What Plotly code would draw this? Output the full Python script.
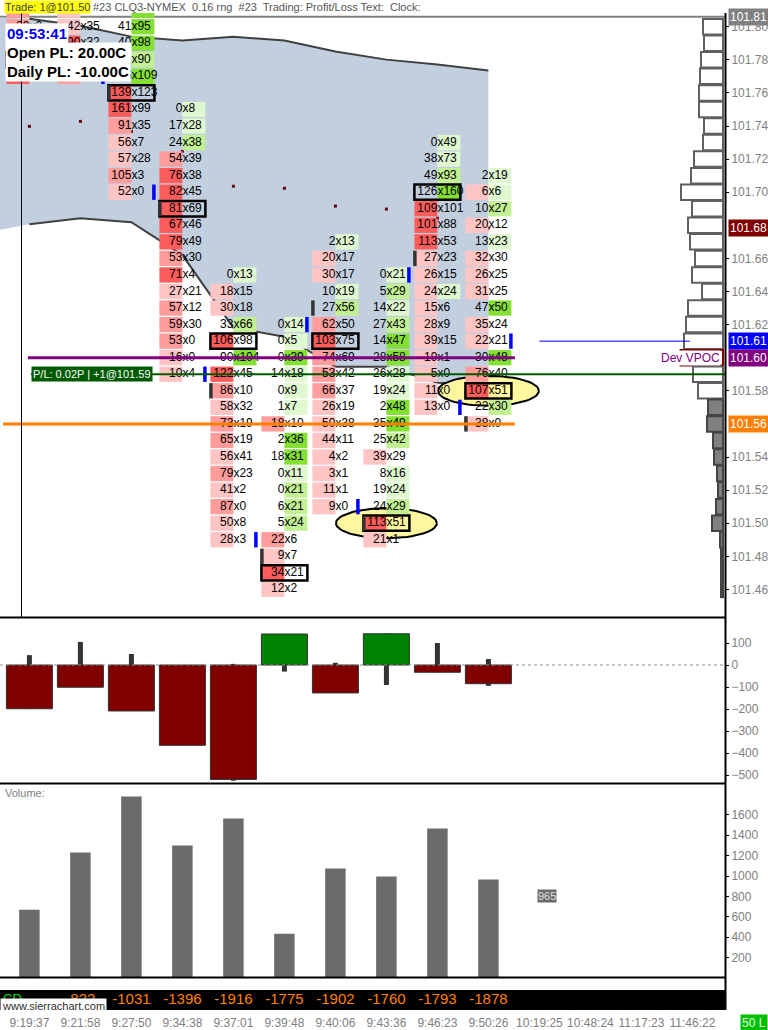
import math
import plotly.graph_objects as go

# ---------------- data ----------------
times = ["9:19:37", "9:21:58", "9:27:50", "9:34:38", "9:37:01", "9:39:48",
         "9:40:06", "9:43:36", "9:46:23", "9:50:26", "10:19:25", "10:48:24",
         "11:17:23", "11:46:22"]

# footprint: highest price of each bar, then bid / ask volume per price level (top -> down)
fp_top = [101.81, 101.81, 101.81, 101.75, 101.65, 101.62, 101.67, 101.65, 101.73, 101.71]
fp_bid = [
    [25, 29, 35, 40, 30],
    [30, 42, 90, 95, 70],
    [25, 41, 40, 68, 86, 139, 161, 91, 56, 57, 105, 52],
    [0, 17, 24, 54, 76, 82, 81, 67, 79, 53, 71, 27, 57, 59, 53, 16, 10],
    [0, 18, 30, 33, 106, 90, 122, 86, 58, 73, 65, 56, 79, 41, 87, 50, 28],
    [0, 0, 0, 14, 0, 1, 18, 2, 18, 0, 0, 6, 5, 22, 9, 34, 12],
    [2, 20, 30, 10, 27, 62, 103, 74, 53, 66, 26, 50, 44, 4, 3, 11, 9],
    [0, 5, 14, 27, 14, 28, 26, 19, 2, 35, 25, 39, 8, 19, 24, 113, 21],
    [0, 38, 49, 126, 109, 101, 113, 27, 26, 24, 15, 28, 39, 19, 5, 11, 13],
    [2, 6, 10, 20, 13, 32, 26, 31, 47, 35, 22, 30, 76, 107, 22, 38],
]
fp_ask = [
    [10, 0, 22, 20, 12],
    [20, 35, 32, 60, 55],
    [96, 95, 98, 90, 109, 123, 99, 35, 7, 28, 3, 0],
    [8, 28, 38, 39, 38, 45, 69, 46, 49, 30, 4, 21, 12, 30, 0, 0, 4],
    [13, 15, 18, 66, 98, 104, 45, 10, 32, 19, 19, 41, 23, 2, 0, 8, 3],
    [14, 5, 39, 18, 9, 7, 10, 36, 31, 11, 21, 21, 24, 6, 7, 21, 2],
    [13, 17, 17, 19, 56, 50, 75, 69, 42, 37, 19, 38, 11, 2, 1, 1, 0],
    [21, 29, 22, 43, 47, 58, 28, 24, 48, 49, 42, 29, 16, 24, 29, 51, 1],
    [49, 73, 93, 160, 101, 88, 53, 23, 15, 24, 6, 9, 15, 1, 0, 0, 0],
    [19, 6, 27, 12, 23, 30, 25, 25, 50, 24, 21, 48, 40, 51, 30, 0],
]
fp_open = [None, None, 101.76, 101.69, 101.58, 101.48, 101.63, 101.50, 101.66, 101.56]
fp_close = [None, 101.77, 101.70, 101.59, 101.49, 101.62, 101.51, 101.65, 101.57, 101.61]
highlights = [(7, 101.50), (9, 101.58)]

# moving average (dots) and band (index -1 = previous bar)
ma_dots = [101.7398, 101.7428, 101.7367, 101.7247, 101.7036, 101.7024,
           101.6916, 101.6898, 101.6843, 101.6783]
band_idx = [-1, 0, 1, 2, 3, 4, 5, 6, 7, 8, 9]
band_upper = [101.806, 101.8048, 101.8006, 101.794, 101.7916, 101.794,
              101.7916, 101.785, 101.7801, 101.7771, 101.7735]
band_lower = [101.6747, 101.6807, 101.6843, 101.6819, 101.662, 101.6181,
              101.6127, 101.5946, 101.5946, 101.5849, 101.5837]

# volume profile
profile_prices = [round(101.80 - 0.01 * k, 2) for k in range(35)]
profile_vol = [20, 19, 22, 23, 24, 24, 19, 20, 29, 32, 42, 31, 35, 33, 28, 31, 21,
               35, 37, 39, 42.5, 30, 25, 15, 16, 10, 9, 6, 5, 7, 11, 3, 2, 2, 2]

# levels
hod_level = 101.806
dev_vpoc = 101.60
position_price = 101.59
orange_level = 101.56
last_price = 101.61

# lower panes
delta = [-199, -101, -209, -365, -520, 141, -127, 142, -33, -85]
delta_hi = [45, 105, 50, 0, 5, 141, 10, 142, 100, 27]
delta_lo = [-199, -101, -209, -365, -526, -30, -127, -91, -33, -95]
volume = [670, 1230, 1780, 1298, 1563, 435, 1073, 995, 1466, 965]
cum_delta = [None, -822, -1031, -1396, -1916, -1775, -1902, -1760, -1793, -1878]

# tick labels (those hidden under the coloured value boxes are left out)
price_ticks = [101.46, 101.48, 101.50, 101.52, 101.54, 101.58, 101.62, 101.64,
               101.66, 101.70, 101.72, 101.74, 101.76, 101.78, 101.80]
delta_ticks = [-500, -400, -300, -200, -100, 0, 100]
volume_ticks = [200, 400, 600, 800, 1000, 1200, 1400, 1600]

# ---------------- geometry ----------------
SANS = "Liberation Sans, Arial, sans-serif"
W, H = 768, 1030
R_PX = 725.0
C0_PX, COL_PX = 29.4, 51.0
TICK = 0.01
PX_TICK = 16.55
P_REF, P_REF_PX = 101.80, 26.7
MAIN_TOP, MAIN_BOT = 13, 617
DELTA_TOP, DELTA_BOT, DELTA_ZERO, DELTA_PX = 619, 783, 665, 0.22
VOL_TOP, VOL_BOT, VOL_PX = 784, 978, 0.102
STRIP_TOP, STRIP_BOT = 990, 1010


def fy(px):
    return 1 - px / H


def fx(px):
    return px / W


def idx_w(px):
    return px / COL_PX


def price_h(px):
    return px / PX_TICK * TICK


xr = [(0 - C0_PX) / COL_PX, (R_PX - C0_PX) / COL_PX]
yr = [P_REF - price_h(MAIN_BOT - P_REF_PX), P_REF + price_h(P_REF_PX - MAIN_TOP)]
y2r = [-(DELTA_BOT - DELTA_ZERO) / DELTA_PX, (DELTA_ZERO - DELTA_TOP) / DELTA_PX]
y3r = [0, (VOL_BOT - VOL_TOP) / VOL_PX]

RED = ['#ffc4c4', '#ff9c9c', '#ff5c5c']
GREEN = ['#e0f8d0', '#c2f092', '#84e032']


def shade(v, vmax):
    r = v / vmax if vmax else 0
    return 2 if r >= 0.75 else (1 if r >= 0.5 else 0)


CELL_H = price_h(15.3)
CELL_W = idx_w(23)

bx, bb, bc = [], [], []
ax_, ab, ac = [], [], []
tx, ty, tb, ta = [], [], [], []
poc_x, poc_b = [], []
for i, (top, bids, asks) in enumerate(zip(fp_top, fp_bid, fp_ask)):
    prices = [round(top - k * TICK, 2) for k in range(len(bids))]
    bmax, amax = max(bids), max(asks)
    totals = [b + a for b, a in zip(bids, asks)]
    k_poc = totals.index(max(totals))
    for p, b, a in zip(prices, bids, asks):
        if b >= a and b > 0:
            bx.append(i - CELL_W / 2); bb.append(p - CELL_H / 2); bc.append(RED[shade(b, bmax)])
        if a >= b and a > 0:
            ax_.append(i + CELL_W / 2); ab.append(p - CELL_H / 2); ac.append(GREEN[shade(a, amax)])
        tx.append(i); ty.append(p); tb.append(str(b)); ta.append("x" + str(a))
    poc_x.append(i); poc_b.append(prices[k_poc] - CELL_H / 2)

fig = go.Figure()
common = dict(showlegend=False, hoverinfo="skip")

# ---- base main subplot: band, dots, highlights ----
fig.add_trace(go.Scatter(x=band_idx, y=band_lower, mode="lines", line=dict(width=0), **common))
fig.add_trace(go.Scatter(x=band_idx, y=band_upper, mode="lines", line=dict(width=0),
                         fill="tonexty", fillcolor="#c1cfdf", **common))
fig.add_trace(go.Scatter(x=band_idx[1:], y=band_upper[1:], mode="lines",
                         line=dict(color="#404040", width=2), **common))
fig.add_trace(go.Scatter(x=band_idx[1:], y=band_lower[1:], mode="lines",
                         line=dict(color="#404040", width=2), **common))
fig.add_trace(go.Scatter(x=list(range(len(ma_dots))), y=ma_dots, mode="markers",
                         marker=dict(color="#6a0010", size=3, symbol="square"), **common))
for (ci, cp) in highlights:
    t = [2 * math.pi * k / 60 for k in range(61)]
    fig.add_trace(go.Scatter(x=[ci + 0.99 * math.cos(a) for a in t],
                             y=[cp + price_h(15) * math.sin(a) for a in t],
                             mode="lines", fill="toself", fillcolor="#fff7a0",
                             line=dict(color="black", width=2), **common))

# ---- overlay subplot (x, y5): footprint cells ----
fig.add_trace(go.Bar(x=bx, y=[CELL_H] * len(bx), base=bb, width=CELL_W,
                     marker=dict(color=bc, line=dict(width=0)), xaxis="x", yaxis="y5", **common))
fig.add_trace(go.Bar(x=ax_, y=[CELL_H] * len(ax_), base=ab, width=CELL_W,
                     marker=dict(color=ac, line=dict(width=0)), xaxis="x", yaxis="y5", **common))
fig.add_trace(go.Bar(x=poc_x, y=[CELL_H] * len(poc_x), base=poc_b, width=idx_w(46),
                     marker=dict(color="rgba(0,0,0,0)", line=dict(color="black", width=2.5)),
                     xaxis="x", yaxis="y5", **common))
ox = [i - idx_w(22.5) for i, p in enumerate(fp_open) if p is not None]
ob = [p - CELL_H / 2 for p in fp_open if p is not None]
fig.add_trace(go.Bar(x=ox, y=[CELL_H] * len(ox), base=ob, width=idx_w(3.5),
                     marker=dict(color="#333333", line=dict(width=0)), xaxis="x", yaxis="y5", **common))
cx = [i + idx_w(22.5) for i, p in enumerate(fp_close) if p is not None]
cb = [p - CELL_H / 2 for p in fp_close if p is not None]
fig.add_trace(go.Bar(x=cx, y=[CELL_H] * len(cx), base=cb, width=idx_w(3.5),
                     marker=dict(color="#0000ff", line=dict(width=0)), xaxis="x", yaxis="y5", **common))
fig.add_trace(go.Scatter(x=tx, y=ty, text=tb, mode="text", textposition="middle left",
                         textfont=dict(family=SANS, size=12, color="black"),
                         xaxis="x", yaxis="y5", **common))
fig.add_trace(go.Scatter(x=tx, y=ty, text=ta, mode="text", textposition="middle right",
                         textfont=dict(family=SANS, size=12, color="black"),
                         xaxis="x", yaxis="y5", **common))

# ---- volume profile (x2, y) ----
pcol = ["#ffffff" if p >= 101.58 else "#808080" for p in profile_prices]
plin = ["#800000" if p == dev_vpoc else ("#606060" if p >= 101.58 else "#444444")
        for p in profile_prices]
fig.add_trace(go.Bar(y=profile_prices, x=profile_vol, orientation="h", width=price_h(15.5),
                     marker=dict(color=pcol, line=dict(color=plin, width=2)),
                     xaxis="x2", yaxis="y", **common))

# ---- delta pane ----
n = len(delta)
fig.add_trace(go.Bar(x=list(range(n)), base=delta_lo,
                     y=[h - l for h, l in zip(delta_hi, delta_lo)], width=idx_w(5),
                     marker=dict(color="#333333", line=dict(width=0)), xaxis="x", yaxis="y2", **common))
fig.add_trace(go.Bar(x=list(range(n)), y=delta, width=idx_w(46),
                     marker=dict(color=["#008000" if d > 0 else "#800000" for d in delta],
                                 line=dict(color="#303030", width=1)),
                     xaxis="x", yaxis="y2", **common))

# ---- volume pane ----
fig.add_trace(go.Bar(x=list(range(len(volume))), y=volume, width=idx_w(20.5),
                     marker=dict(color="#6b6b6b", line=dict(width=0)), xaxis="x", yaxis="y3", **common))

# ---- cumulative delta strip ----
cdx = [i for i, v in enumerate(cum_delta) if v is not None]
fig.add_trace(go.Scatter(x=cdx, y=[0.5] * len(cdx), text=[str(cum_delta[i]) for i in cdx],
                         mode="text", textposition="middle center",
                         textfont=dict(family=SANS, size=15, color="#ff8000"),
                         xaxis="x", yaxis="y4", **common))

# ---------------- shapes ----------------
shapes = []
shapes.append(dict(type="rect", xref="paper", yref="paper", x0=0, x1=fx(R_PX),
                   y0=fy(STRIP_BOT), y1=fy(STRIP_TOP), fillcolor="black", line=dict(width=0),
                   layer="below"))
shapes.append(dict(type="line", xref="x", yref="y", x0=xr[0], x1=xr[1], y0=hod_level, y1=hod_level,
                   line=dict(color="#808080", width=2), layer="below"))
shapes.append(dict(type="line", xref="x", yref="y", x0=-0.03, x1=9.52, y0=dev_vpoc, y1=dev_vpoc,
                   line=dict(color="#800080", width=3), layer="above"))
shapes.append(dict(type="line", xref="x", yref="y", x0=0.03, x1=xr[1], y0=position_price,
                   y1=position_price, line=dict(color="#005a00", width=2), layer="above"))
shapes.append(dict(type="line", xref="x", yref="y", x0=xr[0] + 0.06, x1=9.52, y0=orange_level,
                   y1=orange_level, line=dict(color="#ff8000", width=3), layer="above"))
shapes.append(dict(type="line", xref="x", yref="y", x0=10.0, x1=12.95, y0=last_price,
                   y1=last_price, line=dict(color="#0000ff", width=1), layer="above"))
shapes.append(dict(type="line", xref="x", yref="y2", x0=xr[0], x1=xr[1], y0=0, y1=0,
                   line=dict(color="#909090", width=1, dash="dot"), layer="above"))
shapes.append(dict(type="line", xref="paper", yref="paper", x0=fx(21.5), x1=fx(21.5),
                   y0=fy(MAIN_BOT), y1=fy(MAIN_TOP), line=dict(color="black", width=1)))
for ypx in (617.5, 783.5, 977.5):
    shapes.append(dict(type="line", xref="paper", yref="paper", x0=0, x1=fx(R_PX),
                       y0=fy(ypx), y1=fy(ypx), line=dict(color="black", width=2)))
shapes.append(dict(type="line", xref="paper", yref="paper", x0=fx(R_PX + 0.5), x1=fx(R_PX + 0.5),
                   y0=fy(STRIP_BOT), y1=fy(MAIN_TOP), line=dict(color="black", width=2)))

# ---------------- annotations ----------------
ann = []


def label(text, x, y, xref="paper", yref="paper", xanchor="left", yanchor="top", size=12,
          color="black", bg=None, family=SANS, bold=False, pad=0):
    t = "<b>%s</b>" % text if bold else text
    d = dict(text=t, x=x, y=y, xref=xref, yref=yref, xanchor=xanchor, yanchor=yanchor,
             showarrow=False, font=dict(family=family, size=size, color=color), borderpad=pad)
    if bg:
        d["bgcolor"] = bg
    ann.append(d)


label("Trade: 1@101.50", fx(4), fy(0), size=11, color="#404040", bg="#ffff00")
label("#23 CLQ3-NYMEX&nbsp; 0.16 rng&nbsp; #23&nbsp; Trading: Profit/Loss Text:&nbsp; Clock:",
      fx(92), fy(0), size=11, color="#555555")
label("09:53:41", fx(5), fy(23), size=15, color="#0000ff", bg="white", bold=True, pad=1)
label("Open PL: 20.00C&nbsp;", fx(5), fy(42), size=15, color="black", bg="white", bold=True, pad=1)
label("Daily PL: -10.00C", fx(5), fy(61), size=15, color="black", bg="white", bold=True, pad=1)
label("P/L: 0.02P | +1@101.59", fx(31), position_price, yref="y", yanchor="middle", size=11,
      color="white", bg="#005a00", pad=1)
label("Dev VPOC", fx(721), dev_vpoc, yref="y", xanchor="right", yanchor="middle", size=12,
      color="#800080", bg="white")
for txt, yv, bgc in [("101.81", hod_level, "#808080"), ("101.68", ma_dots[-1], "#800000"),
                     ("101.61", last_price, "#0000ff"), ("101.60", dev_vpoc, "#800080"),
                     ("101.56", orange_level, "#ff8000")]:
    label(txt, fx(727.5), yv, yref="y", yanchor="middle", size=12, color="white", bg=bgc, pad=1)
label("Volume:", fx(4), fy(786), size=11, color="#808080")
label(str(volume[-1]), 10.14, 804, xref="x", yref="y3", xanchor="center", yanchor="middle",
      size=11, color="#e0e0e0", bg="#6b6b6b")
label("CD", fx(2), fy(990), size=13, color="#00e000")
label("www.sierrachart.com", fx(0), fy(998), size=11, color="#303030", bg="white", pad=1)
label("50 L", fx(740), fy(1014), size=12, color="#e0ffe0", bg="#00c000", pad=1)

# ---------------- layout ----------------
axis_font = dict(family=SANS, size=12, color="#808080")
fig.update_layout(
    width=W, height=H, margin=dict(l=0, r=0, t=0, b=0),
    paper_bgcolor="white", plot_bgcolor="rgba(0,0,0,0)",
    barmode="overlay", showlegend=False, hovermode=False,
    font=dict(family=SANS, size=12),
    shapes=shapes, annotations=ann,
    xaxis=dict(domain=[0, fx(R_PX)], range=xr, anchor="y4", tickmode="array",
               tickvals=list(range(len(times))), ticktext=times, showgrid=False, zeroline=False,
               ticks="outside", ticklen=2, tickcolor="rgba(0,0,0,0)", tickangle=0,
               tickfont=dict(family=SANS, size=12, color="#808080"),
               showline=False, fixedrange=True),
    xaxis2=dict(overlaying="x", range=[723, -2], visible=False, anchor="y"),
    yaxis=dict(domain=[fy(MAIN_BOT), fy(MAIN_TOP)], range=yr, side="right", anchor="x",
               tickmode="array", tickvals=price_ticks, tickformat=".2f", ticks="outside",
               ticklen=3, tickcolor="black", tickfont=axis_font, showgrid=False, zeroline=False),
    yaxis5=dict(overlaying="y", range=yr, visible=False, anchor="x"),
    yaxis2=dict(domain=[fy(DELTA_BOT), fy(DELTA_TOP)], range=y2r, side="right", anchor="x",
                tickmode="array", tickvals=delta_ticks, ticks="outside", ticklen=3,
                tickcolor="black", tickfont=axis_font, showgrid=False, zeroline=False),
    yaxis3=dict(domain=[fy(VOL_BOT), fy(VOL_TOP)], range=y3r, side="right", anchor="x",
                tickmode="array", tickvals=volume_ticks, ticks="outside", ticklen=3,
                tickcolor="black", tickfont=axis_font, showgrid=False, zeroline=False),
    yaxis4=dict(domain=[fy(STRIP_BOT), fy(STRIP_TOP)], range=[0, 1], visible=False, anchor="x"),
)

fig.write_html("out.html", config={"displayModeBar": False},
               post_script="document.body.style.margin='0';document.body.style.overflow='hidden';")
